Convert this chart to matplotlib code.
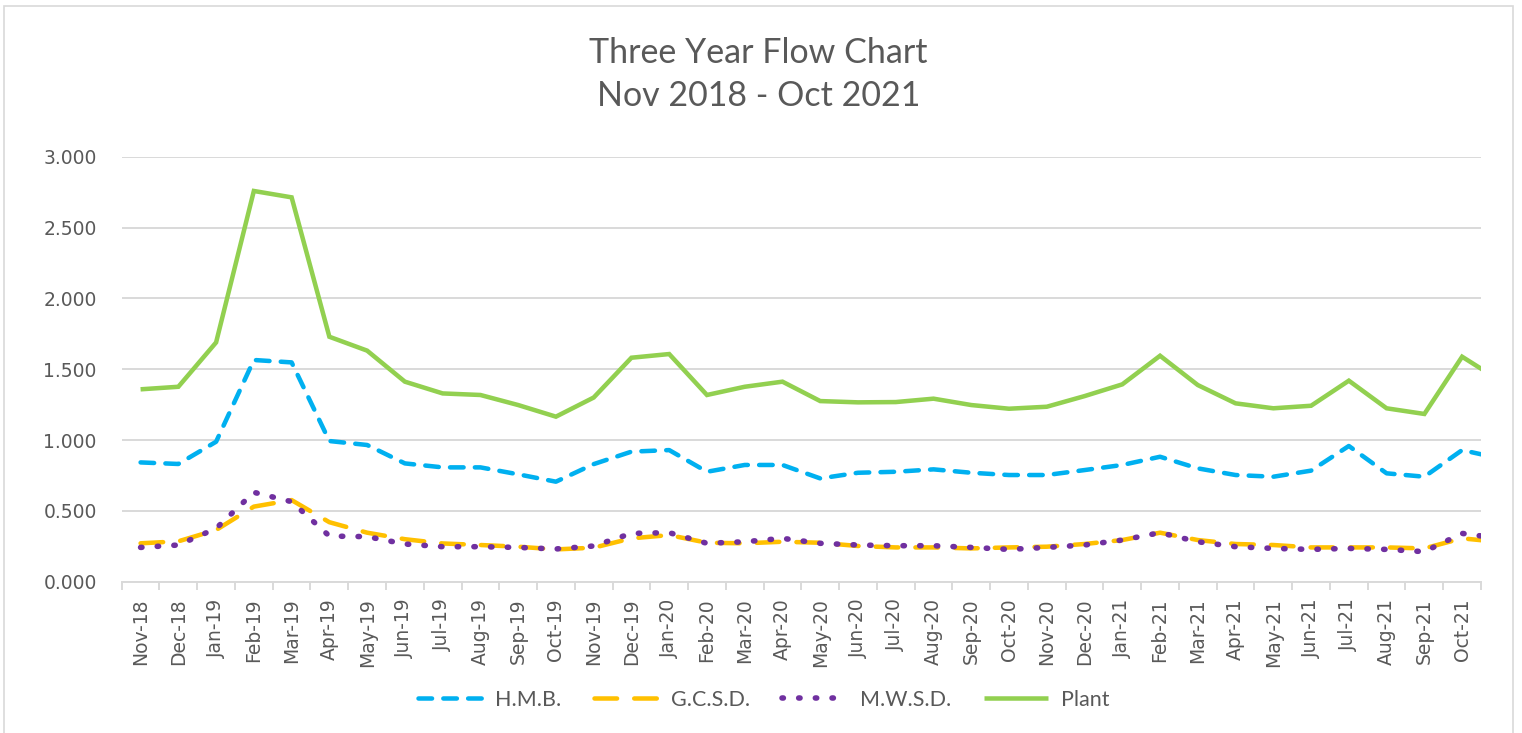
import matplotlib
matplotlib.use("Agg")
import matplotlib.pyplot as plt
from matplotlib.patches import Rectangle
from matplotlib.ticker import FixedLocator, FuncFormatter

# ---- data ----
months = ["Nov-18", "Dec-18", "Jan-19", "Feb-19", "Mar-19", "Apr-19", "May-19", "Jun-19",
          "Jul-19", "Aug-19", "Sep-19", "Oct-19", "Nov-19", "Dec-19", "Jan-20", "Feb-20",
          "Mar-20", "Apr-20", "May-20", "Jun-20", "Jul-20", "Aug-20", "Sep-20", "Oct-20",
          "Nov-20", "Dec-20", "Jan-21", "Feb-21", "Mar-21", "Apr-21", "May-21", "Jun-21",
          "Jul-21", "Aug-21", "Sep-21", "Oct-21", "Nov-21"]
visible_months = 36  # the last value runs off the right edge of the plot

hmb = [0.842, 0.831, 0.988, 1.565, 1.548, 0.993, 0.965, 0.835, 0.807, 0.807, 0.758, 0.706,
       0.830, 0.918, 0.929, 0.776, 0.824, 0.824, 0.729, 0.769, 0.776, 0.793, 0.769, 0.753,
       0.753, 0.788, 0.824, 0.882, 0.800, 0.753, 0.741, 0.784, 0.958, 0.765, 0.741, 0.929,
       0.870]
gcsd = [0.271, 0.285, 0.365, 0.530, 0.576, 0.420, 0.346, 0.300, 0.270, 0.259, 0.247, 0.228,
        0.240, 0.306, 0.329, 0.275, 0.271, 0.282, 0.275, 0.252, 0.242, 0.242, 0.235, 0.242,
        0.247, 0.266, 0.294, 0.346, 0.294, 0.266, 0.259, 0.242, 0.242, 0.242, 0.235, 0.306,
        0.280]
mwsd = [0.242, 0.259, 0.376, 0.631, 0.565, 0.322, 0.318, 0.266, 0.247, 0.247, 0.242, 0.231,
        0.252, 0.341, 0.346, 0.271, 0.282, 0.306, 0.271, 0.259, 0.254, 0.254, 0.242, 0.228,
        0.242, 0.259, 0.294, 0.346, 0.282, 0.247, 0.235, 0.228, 0.235, 0.228, 0.212, 0.341,
        0.305]
plant = [1.358, 1.376, 1.689, 2.758, 2.713, 1.729, 1.631, 1.412, 1.329, 1.318, 1.247, 1.165,
         1.300, 1.581, 1.607, 1.318, 1.376, 1.412, 1.275, 1.266, 1.268, 1.292, 1.247, 1.221,
         1.235, 1.310, 1.393, 1.595, 1.388, 1.259, 1.224, 1.242, 1.419, 1.224, 1.184, 1.588,
         1.420]

title_lines = ["Three Year Flow Chart", "Nov 2018 - Oct 2021"]
series_names = ["H.M.B.", "G.C.S.D.", "M.W.S.D.", "Plant"]
y_ticks = [0.0, 0.5, 1.0, 1.5, 2.0, 2.5, 3.0]

# ---- styling ----
W, H, DPI = 1522, 733, 100
TEXT = "#595959"
GRID = "#D9D9D9"
colors = {"H.M.B.": "#00B0F0", "G.C.S.D.": "#FFC000", "M.W.S.D.": "#7030A0", "Plant": "#92D050"}

fig = plt.figure(figsize=(W / DPI, H / DPI), dpi=DPI)
fig.patch.set_facecolor("white")

# chart border
fig.add_artist(Rectangle((4 / W, -0.01), (1513 - 4) / W, 1 - 6 / H + 0.01,
                         transform=fig.transFigure, fill=False, edgecolor=GRID, lw=1.2))

left, right = 121.7 / W, 1481 / W
bottom, top = (H - 581.7) / H, (H - 156.7) / H
ax = fig.add_axes([left, bottom, right - left, top - bottom])

x = list(range(len(months)))
lw = 3.25
ax.plot(x, hmb, color=colors["H.M.B."], lw=lw, dashes=(3.0, 2.5),
        dash_capstyle="round", solid_capstyle="round", label=series_names[0], zorder=3)
ax.plot(x, gcsd, color=colors["G.C.S.D."], lw=lw, dashes=(5.0, 3.8),
        dash_capstyle="round", label=series_names[1], zorder=4)
ax.plot(x, mwsd, color=colors["M.W.S.D."], lw=4.0, dashes=(0.25, 2.75),
        dash_capstyle="round", label=series_names[2], zorder=5)
ax.plot(x, plant, color=colors["Plant"], lw=lw, solid_joinstyle="miter",
        solid_capstyle="butt", label=series_names[3], zorder=6)

ax.set_xlim(-0.5, visible_months - 0.5)
ax.set_ylim(0, 3.0)

ax.set_yticks(y_ticks)
ax.yaxis.set_major_formatter(FuncFormatter(lambda v, p: f"{v:.3f}"))
ax.grid(axis="y", color=GRID, lw=1.4, zorder=0)
ax.set_axisbelow(True)

ax.set_xticks(range(visible_months))
ax.set_xticklabels(months[:visible_months], rotation=90)
ax.xaxis.set_minor_locator(FixedLocator([i - 0.5 for i in range(visible_months + 1)]))
ax.tick_params(axis="x", which="major", length=0, pad=12, labelsize=13.5, labelcolor=TEXT)
ax.tick_params(axis="x", which="minor", length=6, width=1.4, color=GRID, direction="out")
ax.tick_params(axis="y", length=0, pad=18, labelsize=13.5, labelcolor=TEXT)

for s in ["left", "right", "top"]:
    ax.spines[s].set_visible(False)
ax.spines["bottom"].set_color(GRID)
ax.spines["bottom"].set_linewidth(1.4)
ax.spines["bottom"].set_zorder(1)

# title
cx = 758.5 / W
fig.text(cx, 1 - 62.7 / H, title_lines[0], ha="center", va="baseline",
         fontsize=24.5, color=TEXT, family=["Lato", "DejaVu Sans"])
fig.text(cx, 1 - 106 / H, title_lines[1], ha="center", va="baseline",
         fontsize=24.5, color=TEXT, family=["Lato", "DejaVu Sans"])

# legend
handles, labels = ax.get_legend_handles_labels()
leg = fig.legend(handles, labels, loc="center", bbox_to_anchor=(763.5 / W, 33 / H),
                 ncol=4, frameon=False, handlelength=3.0, handletextpad=0.6,
                 columnspacing=1.5, prop={"family": "Lato", "size": 15.5})
for t in leg.get_texts():
    t.set_color(TEXT)

fig.savefig("out.png", dpi=DPI, facecolor="white")
